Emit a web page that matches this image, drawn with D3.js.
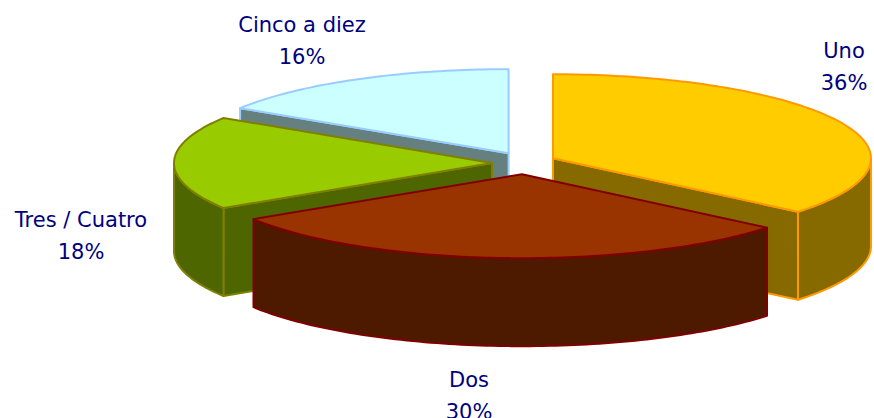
<!DOCTYPE html>
<html>
<head>
<meta charset="utf-8">
<script src="https://cdn.jsdelivr.net/npm/d3@7"></script>
<style>
  body { margin: 0; background: #fff; }
</style>
</head>
<body>
<div id="chart"></div>
<script>
/* Data. */
const categories = ["Uno", "Dos", "Tres / Cuatro", "Cinco a diez"]
const values = [36, 30, 18, 16]
const percentLabels = ["36%", "30%", "18%", "16%"]

/* Colours per slice. */
const topColors = ["#FFCC00", "#993300", "#99CC00", "#CCFFFF"]
const sideColors = ["#866A00", "#4D1A00", "#4D6600", "#668080"]
const edgeColors = ["#FF9900", "#800000", "#808000", "#99CCFF"]

/* Label anchors (baseline of first line). */
const labelAnchors = [[844, 58], [469, 387], [81, 227], [302, 32]]

/* Define svg-size. */
const width = 874
const height = 418

const svg = d3.select("#chart")
  .append("svg")
  .attr("width", width)
  .attr("height", height)

/* Pie geometry. */
const cx = 524
const cy = 163
const rx = 318
const ry = 84
const depth = 88
const explode = 32
const explodeY = 0.35

const pie = d3.pie().sort(null).value(d => d)
const arcs = pie(values)

/* Point on the ellipse at angle a (clockwise from 12 o'clock). */
function pt(a, ox, oy, dz) {
  return [ox + rx * Math.sin(a), oy - ry * Math.cos(a) + dz]
}

function arcPoints(a0, a1, ox, oy, dz) {
  const n = Math.max(2, Math.ceil((a1 - a0) / 0.02))
  return d3.range(n + 1).map(i => pt(a0 + (a1 - a0) * i / n, ox, oy, dz))
}

const line = d3.line().curve(d3.curveLinearClosed)

const slices = arcs.map(d => {
  const mid = (d.startAngle + d.endAngle) / 2
  return {
    ...d,
    mid: mid,
    ox: cx + explode * Math.sin(mid),
    oy: cy - explode * explodeY * Math.cos(mid)
  }
})

/* Draw from back to front. */
const order = slices.slice().sort((a, b) => Math.cos(b.mid) - Math.cos(a.mid))

const pieG = svg.append("g")

order.forEach(s => {
  const g = pieG.append("g")
  const i = s.index
  const apex = [s.ox, s.oy]
  const apexLow = [s.ox, s.oy + depth]
  const faces = []

  /* Radial side faces. */
  if (Math.sin(s.startAngle) < -1e-6) {
    const p = pt(s.startAngle, s.ox, s.oy, 0)
    faces.push([apex, p, [p[0], p[1] + depth], apexLow])
  }
  if (Math.sin(s.endAngle) > 1e-6) {
    const p = pt(s.endAngle, s.ox, s.oy, 0)
    faces.push([apex, p, [p[0], p[1] + depth], apexLow])
  }

  /* Outer wall, front half only. */
  const lo = Math.max(s.startAngle, Math.PI / 2)
  const hi = Math.min(s.endAngle, Math.PI * 1.5)
  if (lo < hi) {
    faces.push(arcPoints(lo, hi, s.ox, s.oy, 0)
      .concat(arcPoints(lo, hi, s.ox, s.oy, depth).reverse()))
  }

  g.selectAll("path.side")
    .data(faces)
    .enter()
    .append("path")
    .attr("class", "side")
    .attr("d", d => line(d))
    .attr("fill", sideColors[i])
    .attr("stroke", edgeColors[i])
    .attr("stroke-width", 2)
    .attr("stroke-linejoin", "round")

  /* Top face. */
  g.append("path")
    .attr("d", line([apex].concat(arcPoints(s.startAngle, s.endAngle, s.ox, s.oy, 0))))
    .attr("fill", topColors[i])
    .attr("stroke", edgeColors[i])
    .attr("stroke-width", 2)
    .attr("stroke-linejoin", "round")
})

/* Labels. */
const labels = svg.append("g")
  .attr("font-family", "'DejaVu Sans', Verdana, sans-serif")
  .attr("font-size", "21px")
  .attr("fill", "#000080")
  .attr("text-anchor", "middle")

labels.selectAll("text")
  .data(categories)
  .enter()
  .append("text")
  .attr("x", (d, i) => labelAnchors[i][0])
  .attr("y", (d, i) => labelAnchors[i][1])
  .each(function (d, i) {
    const t = d3.select(this)
    t.append("tspan").attr("x", labelAnchors[i][0]).text(d)
    t.append("tspan").attr("x", labelAnchors[i][0]).attr("dy", 32).text(percentLabels[i])
  })
</script>
</body>
</html>
